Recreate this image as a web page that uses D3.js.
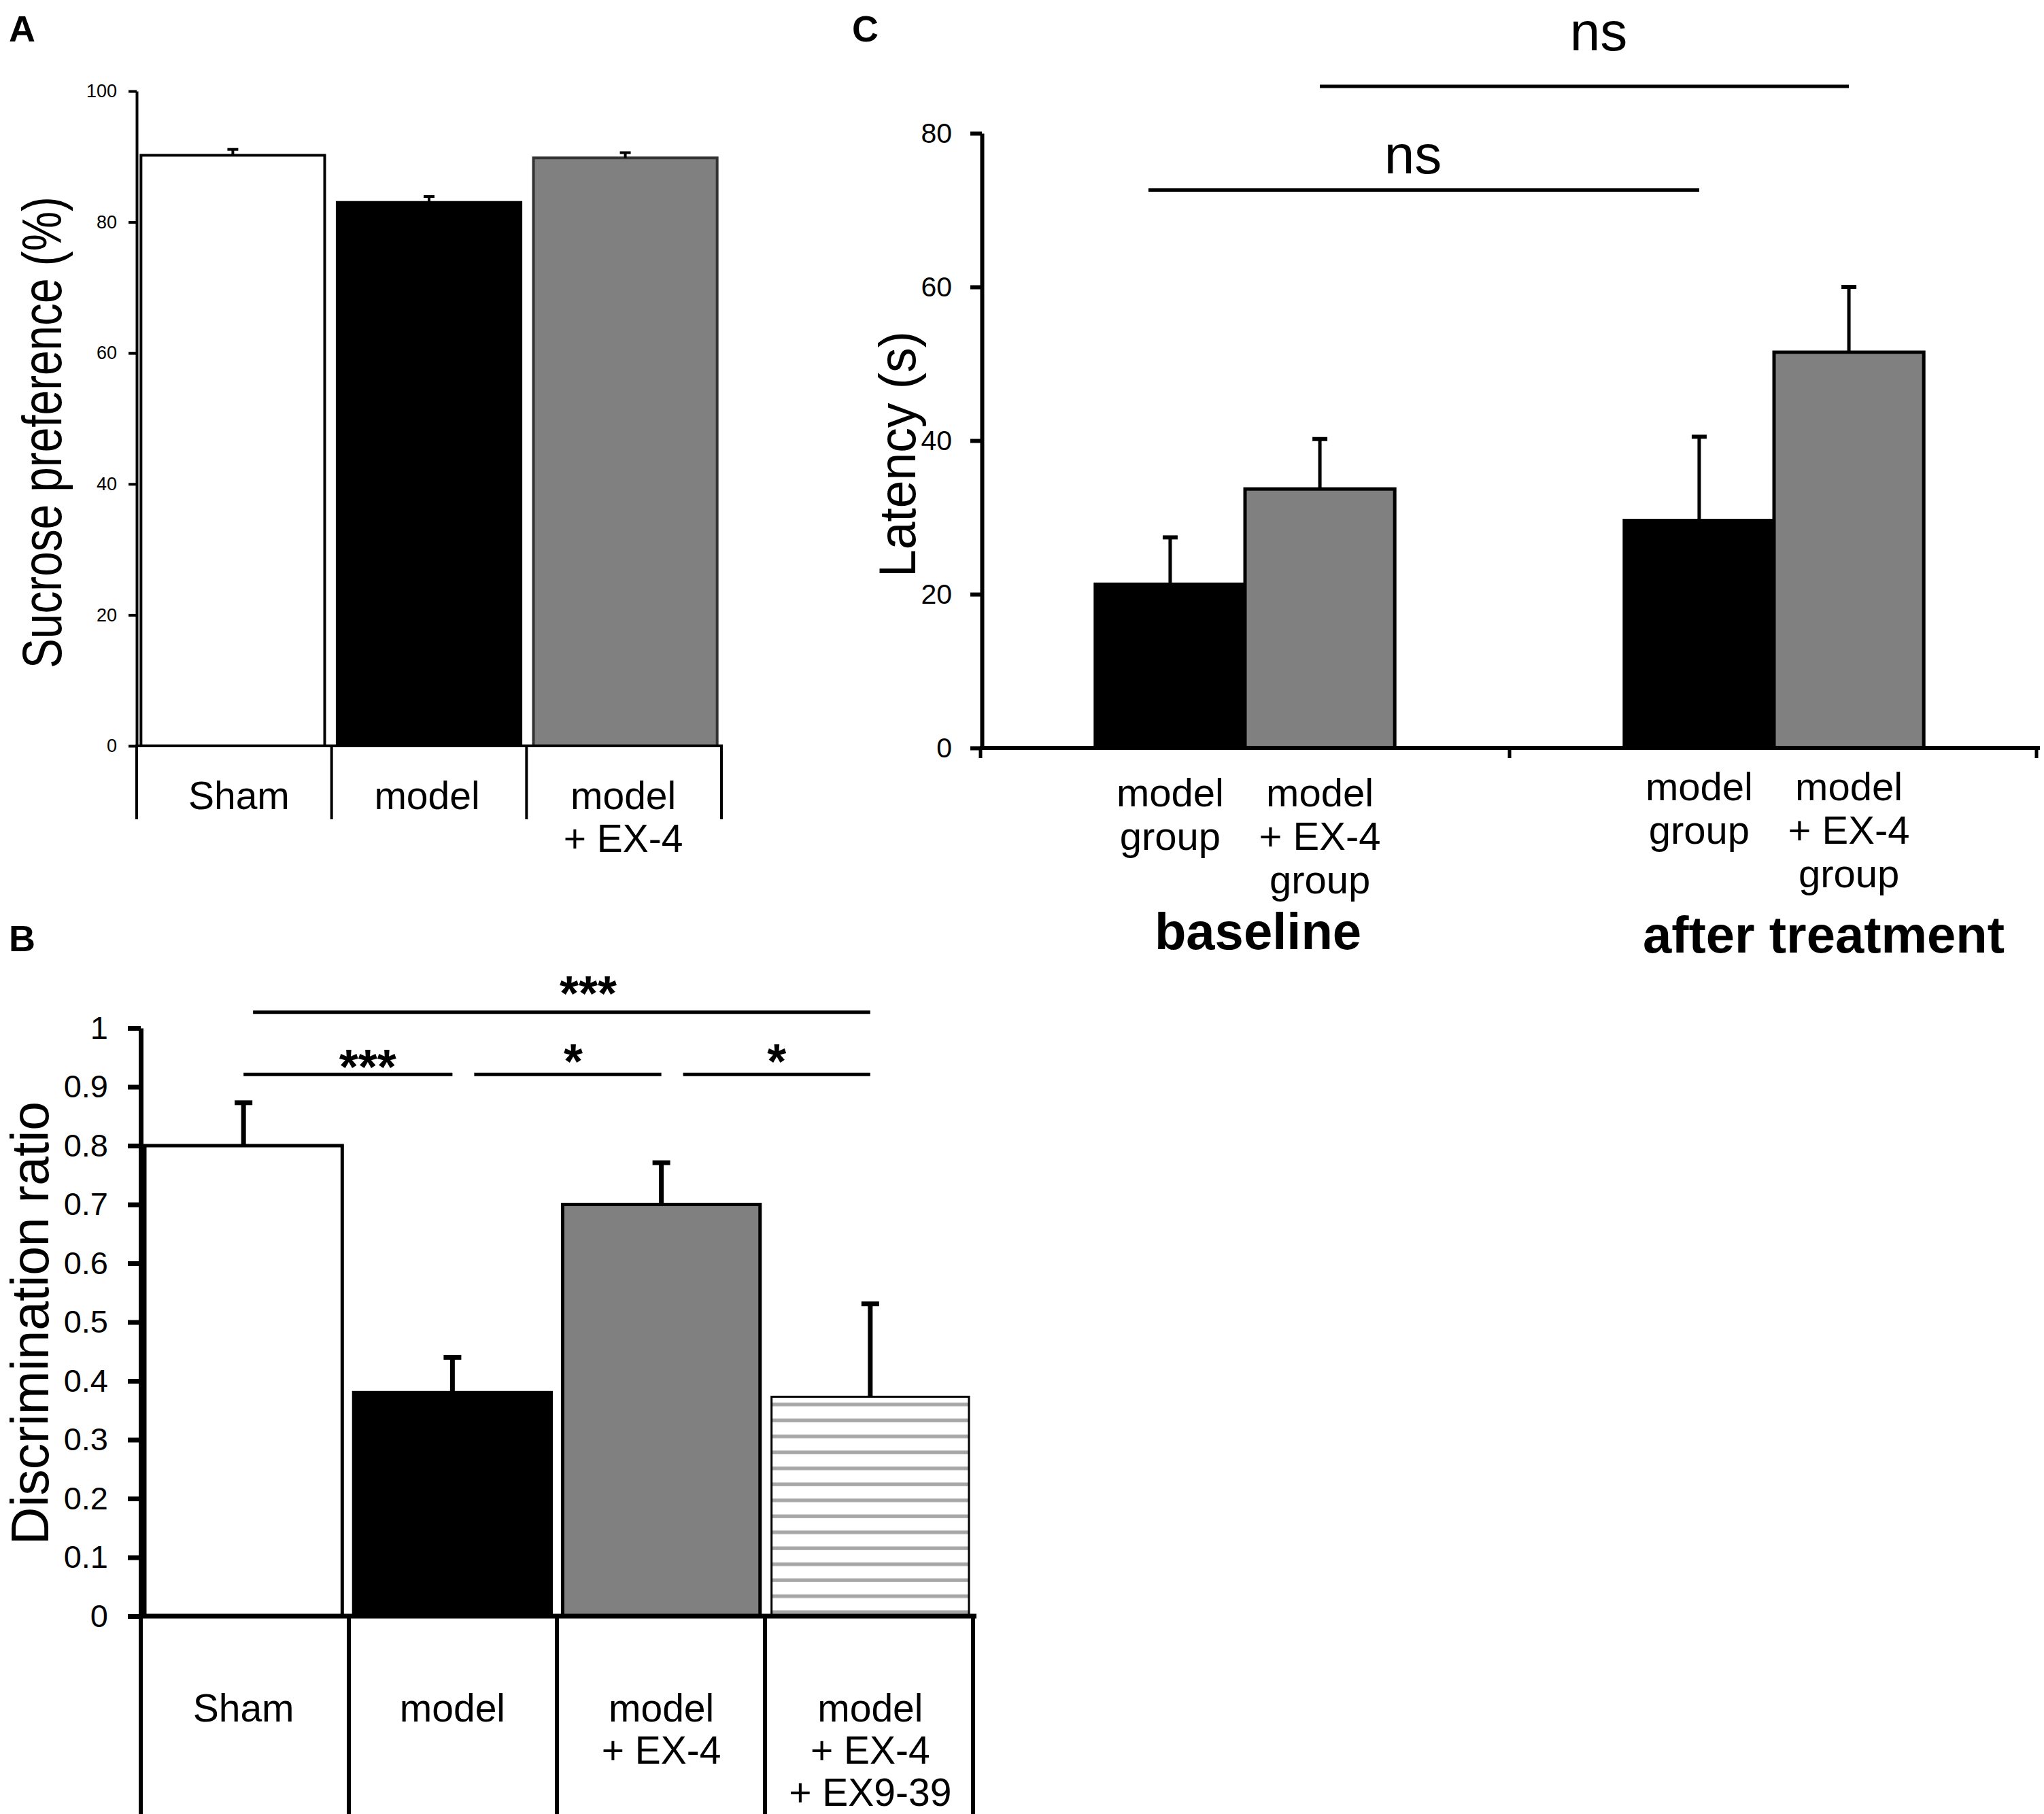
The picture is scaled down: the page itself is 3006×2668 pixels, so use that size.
<!DOCTYPE html>
<html>
<head>
<meta charset="utf-8">
<style>
  body { margin: 0; background: #fff; }
  text { font-family: "Liberation Sans", Arial, sans-serif; }
</style>
</head>
<body>
<svg id="chart" width="3006" height="2668"></svg>
<script src="https://cdn.jsdelivr.net/npm/d3@7"></script>
<script>
// ---- data ----
// panel A: sucrose preference (%)
const catsA = ["Sham", "model", "model\n+ EX-4"]
const meanA = [90.2, 83.0, 89.8]
const semA = [0.9, 0.9, 0.8]
const ticksA = [0, 20, 40, 60, 80, 100]

// panel B: discrimination ratio
const catsB = ["Sham", "model", "model\n+ EX-4", "model\n+ EX-4\n+ EX9-39"]
const meanB = [0.80, 0.38, 0.70, 0.373]
const semB = [0.073, 0.06, 0.071, 0.158]
const ticksB = [0, 0.1, 0.2, 0.3, 0.4, 0.5, 0.6, 0.7, 0.8, 0.9, 1]
// [from, to, label, level]
const sigB = [[0, 3, "***", 1.027], [0, 1, "***", 0.921], [1, 2, "*", 0.921], [2, 3, "*", 0.921]]

// panel C: latency (s)
const groupsC = ["baseline", "after treatment"]
const seriesC = ["model group", "model + EX-4 group"]
const labelsC = ["model\ngroup", "model\n+ EX-4\ngroup"]
const meanModelC = [21.3, 29.6]
const semModelC = [6.1, 10.9]
const meanEx4C = [33.7, 51.5]
const semEx4C = [6.5, 8.5]
const ticksC = [0, 20, 40, 60, 80]
// [group a, series a, group b, series b, label, level]
const sigC = [[0, 0, 1, 0, "ns", 72.6], [0, 1, 1, 1, "ns", 86.1]]

// styling
const fillsA = ["#ffffff", "#000000", "#808080"]
const fillsB = ["#ffffff", "#000000", "#808080", "url(#hatch)"]
const fillsC = ["#000000", "#808080"]
const sigBLabelShift = [[39, -3], [29, 14], [8, 6], [0, 6]]   // label nudges [dx, dy]
const sigCLabelShift = [[-16, -25], [21, -53]]

const svg = d3.select("#chart")

// hatch pattern for the EX9-39 bar
let defs = svg.append("defs")
let pat = defs.append("pattern")
    .attr("id", "hatch")
    .attr("patternUnits", "userSpaceOnUse")
    .attr("width", 40).attr("height", 23.5)
    .attr("y", 2377 - 3)
pat.append("rect").attr("width", 40).attr("height", 23.5).attr("fill", "#fff")
pat.append("rect").attr("y", 18).attr("width", 40).attr("height", 5.3).attr("fill", "#a6a6a6")

function multiline(sel, str, lh) {
    str.split("\n").forEach((s, i) => {
        sel.append("tspan").attr("x", sel.attr("x")).attr("dy", i == 0 ? 0 : lh).text(s)
    })
}

function panelLetter(t, x, y) {
    svg.append("text").attr("x", x).attr("y", y)
        .attr("font-size", 54).attr("font-weight", "bold").text(t)
}

// ================= PANEL A =================
{
    let g = svg.append("g")
    let y = d3.scaleLinear().domain([0, 100]).range([1097, 134])
    let x = d3.scaleBand().domain(catsA).range([201, 1061]).paddingInner(0.05).paddingOuter(0.015)

    let ax = g.append("g").attr("transform", "translate(201,0)")
        .call(d3.axisLeft(y).tickValues(ticksA).tickSize(12).tickSizeOuter(0).tickPadding(17))
    ax.selectAll("path,line").attr("stroke", "#000").attr("stroke-width", 4)
    ax.selectAll("text").attr("font-size", 27).attr("font-family", "Liberation Sans, Arial, sans-serif")

    g.selectAll(".bar").data(catsA).enter().append("rect")
        .attr("x", d => x(d) + 2)
        .attr("y", (d, i) => y(meanA[i]))
        .attr("width", x.bandwidth() - 4)
        .attr("height", (d, i) => y(0) - y(meanA[i]))
        .attr("fill", (d, i) => fillsA[i])
        .attr("stroke", (d, i) => i == 2 ? "#333" : "#000")
        .attr("stroke-width", 4)

    // error bars
    catsA.forEach((c, i) => {
        let cx = x(c) + x.bandwidth() / 2
        g.append("line").attr("x1", cx).attr("x2", cx)
            .attr("y1", y(meanA[i])).attr("y2", y(meanA[i] + semA[i]))
            .attr("stroke", "#000").attr("stroke-width", 4)
        g.append("line").attr("x1", cx - 8).attr("x2", cx + 8)
            .attr("y1", y(meanA[i] + semA[i])).attr("y2", y(meanA[i] + semA[i]))
            .attr("stroke", "#000").attr("stroke-width", 4)
    })

    // category table
    g.append("line").attr("x1", 199).attr("x2", 1063).attr("y1", y(0)).attr("y2", y(0))
        .attr("stroke", "#000").attr("stroke-width", 4)
    d3.range(catsA.length + 1).forEach(i => {
        let bx = x.range()[0] + i * (x.range()[1] - x.range()[0]) / catsA.length
        g.append("line").attr("x1", bx).attr("x2", bx).attr("y1", y(0)).attr("y2", 1205)
            .attr("stroke", "#000").attr("stroke-width", 4)
    })
    catsA.forEach((c, i) => {
        let t = g.append("text").attr("x", x(c) + x.bandwidth() / 2 + (i == 0 ? 9 : -3)).attr("y", 1190)
            .attr("text-anchor", "middle").attr("font-size", 57)
        multiline(t, c, 63)
    })

    g.append("text").attr("transform", "translate(90,636) rotate(-90)")
        .attr("text-anchor", "middle").attr("font-size", 82)
        .attr("textLength", 694).attr("lengthAdjust", "spacingAndGlyphs")
        .text("Sucrose preference (%)")

    panelLetter("A", 13, 61)
}

// ================= PANEL B =================
{
    let g = svg.append("g")
    let y = d3.scaleLinear().domain([0, 1]).range([2377, 1512])
    let x = d3.scaleBand().domain(catsB).range([207, 1431]).paddingInner(0.042).paddingOuter(0.013)

    let ax = g.append("g").attr("transform", "translate(207,0)")
        .call(d3.axisLeft(y).tickValues(ticksB).tickSize(19).tickSizeOuter(0).tickPadding(29)
            .tickFormat(d3.format("~g")))
    ax.selectAll("path,line").attr("stroke", "#000").attr("stroke-width", 7)
    ax.selectAll("text").attr("font-size", 47).attr("font-family", "Liberation Sans, Arial, sans-serif")

    g.selectAll(".bar").data(catsB).enter().append("rect")
        .attr("x", d => x(d) + 2)
        .attr("y", (d, i) => y(meanB[i]))
        .attr("width", x.bandwidth() - 4)
        .attr("height", (d, i) => y(0) - y(meanB[i]))
        .attr("fill", (d, i) => fillsB[i])
        .attr("stroke", "#000")
        .attr("stroke-width", (d, i) => i == 3 ? 3 : 5)

    catsB.forEach((c, i) => {
        let cx = x(c) + x.bandwidth() / 2
        g.append("line").attr("x1", cx).attr("x2", cx)
            .attr("y1", y(meanB[i])).attr("y2", y(meanB[i] + semB[i]))
            .attr("stroke", "#000").attr("stroke-width", 7)
        g.append("line").attr("x1", cx - 13).attr("x2", cx + 13)
            .attr("y1", y(meanB[i] + semB[i])).attr("y2", y(meanB[i] + semB[i]))
            .attr("stroke", "#000").attr("stroke-width", 7)
    })

    // significance bars
    sigB.forEach((s, k) => {
        let xa = x(catsB[s[0]]) + x.bandwidth() / 2
        let xb = x(catsB[s[1]]) + x.bandwidth() / 2
        if (k == 0) xa += 14
        if (k > 1) xa += 32
        let yy = y(s[3])
        g.append("line").attr("x1", xa).attr("x2", xb).attr("y1", yy).attr("y2", yy)
            .attr("stroke", "#000").attr("stroke-width", 5)
        g.append("text").attr("x", (xa + xb) / 2 + sigBLabelShift[k][0]).attr("y", yy + sigBLabelShift[k][1])
            .attr("text-anchor", "middle").attr("font-size", 72).attr("font-weight", "bold").text(s[2])
    })

    g.append("line").attr("x1", 204).attr("x2", 1436).attr("y1", y(0)).attr("y2", y(0))
        .attr("stroke", "#000").attr("stroke-width", 7)
    d3.range(catsB.length + 1).forEach(i => {
        let bx = x.range()[0] + i * (x.range()[1] - x.range()[0]) / catsB.length
        g.append("line").attr("x1", bx).attr("x2", bx).attr("y1", y(0)).attr("y2", 2668)
            .attr("stroke", "#000").attr("stroke-width", 6)
    })
    catsB.forEach(c => {
        let t = g.append("text").attr("x", x(c) + x.bandwidth() / 2).attr("y", 2532)
            .attr("text-anchor", "middle").attr("font-size", 57)
        multiline(t, c, 62)
    })

    g.append("text").attr("transform", "translate(71,1946) rotate(-90)")
        .attr("text-anchor", "middle").attr("font-size", 78)
        .attr("textLength", 652).attr("lengthAdjust", "spacingAndGlyphs")
        .text("Discrimination ratio")

    panelLetter("B", 13, 1399)
}

// ================= PANEL C =================
{
    let g = svg.append("g")
    let y = d3.scaleLinear().domain([0, 80]).range([1100, 196])
    let x0 = d3.scaleBand().domain(groupsC).range([1442, 2998]).paddingInner(0.434).paddingOuter(0.217)
    let x1 = d3.scaleBand().domain(seriesC).range([0, x0.bandwidth()])
    let means = [meanModelC, meanEx4C]
    let sems = [semModelC, semEx4C]

    let ax = g.append("g").attr("transform", "translate(1444,0)")
        .call(d3.axisLeft(y).tickValues(ticksC).tickSize(17).tickSizeOuter(0).tickPadding(27))
    ax.selectAll("path,line").attr("stroke", "#000").attr("stroke-width", 6)
    ax.selectAll("text").attr("font-size", 41).attr("font-family", "Liberation Sans, Arial, sans-serif")

    seriesC.forEach((s, j) => {
        g.selectAll(".bar" + j).data(groupsC).enter().append("rect")
            .attr("x", d => x0(d) + x1(s))
            .attr("y", (d, i) => y(means[j][i]))
            .attr("width", x1.bandwidth())
            .attr("height", (d, i) => y(0) - y(means[j][i]))
            .attr("fill", fillsC[j])
            .attr("stroke", "#000").attr("stroke-width", 5)

        groupsC.forEach((gr, i) => {
            let cx = x0(gr) + x1(s) + x1.bandwidth() / 2
            let top = y(means[j][i] + sems[j][i])
            g.append("line").attr("x1", cx).attr("x2", cx).attr("y1", y(means[j][i])).attr("y2", top)
                .attr("stroke", "#000").attr("stroke-width", 5)
            g.append("line").attr("x1", cx - 11).attr("x2", cx + 11).attr("y1", top).attr("y2", top)
                .attr("stroke", "#000").attr("stroke-width", 6)
            let t = g.append("text").attr("x", cx).attr("y", i == 0 ? 1186 : 1177)
                .attr("text-anchor", "middle").attr("font-size", 58)
            multiline(t, labelsC[j], 64)
        })
    })

    // x axis with group ticks
    g.append("line").attr("x1", 1441).attr("x2", 3000).attr("y1", y(0)).attr("y2", y(0))
        .attr("stroke", "#000").attr("stroke-width", 6)
    d3.range(groupsC.length + 1).forEach(i => {
        let bx = x0.range()[0] + i * (x0.range()[1] - x0.range()[0]) / groupsC.length - (i == 2 ? 3 : 0)
        g.append("line").attr("x1", bx).attr("x2", bx).attr("y1", y(0)).attr("y2", y(0) + 15)
            .attr("stroke", "#000").attr("stroke-width", 5)
    })
    groupsC.forEach((gr, i) => {
        g.append("text").attr("x", x0(gr) + x0.bandwidth() / 2 + (i == 0 ? 19 : 73))
            .attr("y", i == 0 ? 1396 : 1401)
            .attr("text-anchor", "middle").attr("font-size", 76).attr("font-weight", "bold").text(gr)
    })

    sigC.forEach((s, k) => {
        let xa = x0(groupsC[s[0]]) + x1(seriesC[s[1]]) + x1.bandwidth() / 2 - (k == 0 ? 32 : 0)
        let xb = x0(groupsC[s[2]]) + x1(seriesC[s[3]]) + x1.bandwidth() / 2
        let yy = y(s[5])
        g.append("line").attr("x1", xa).attr("x2", xb).attr("y1", yy).attr("y2", yy)
            .attr("stroke", "#000").attr("stroke-width", 5)
        g.append("text").attr("x", (xa + xb) / 2 + sigCLabelShift[k][0]).attr("y", yy + sigCLabelShift[k][1])
            .attr("text-anchor", "middle").attr("font-size", 80).text(s[4])
    })

    g.append("text").attr("transform", "translate(1346,668) rotate(-90)")
        .attr("text-anchor", "middle").attr("font-size", 76)
        .attr("textLength", 362).attr("lengthAdjust", "spacingAndGlyphs")
        .text("Latency (s)")

    panelLetter("C", 1253, 61)
}
</script>
</body>
</html>
